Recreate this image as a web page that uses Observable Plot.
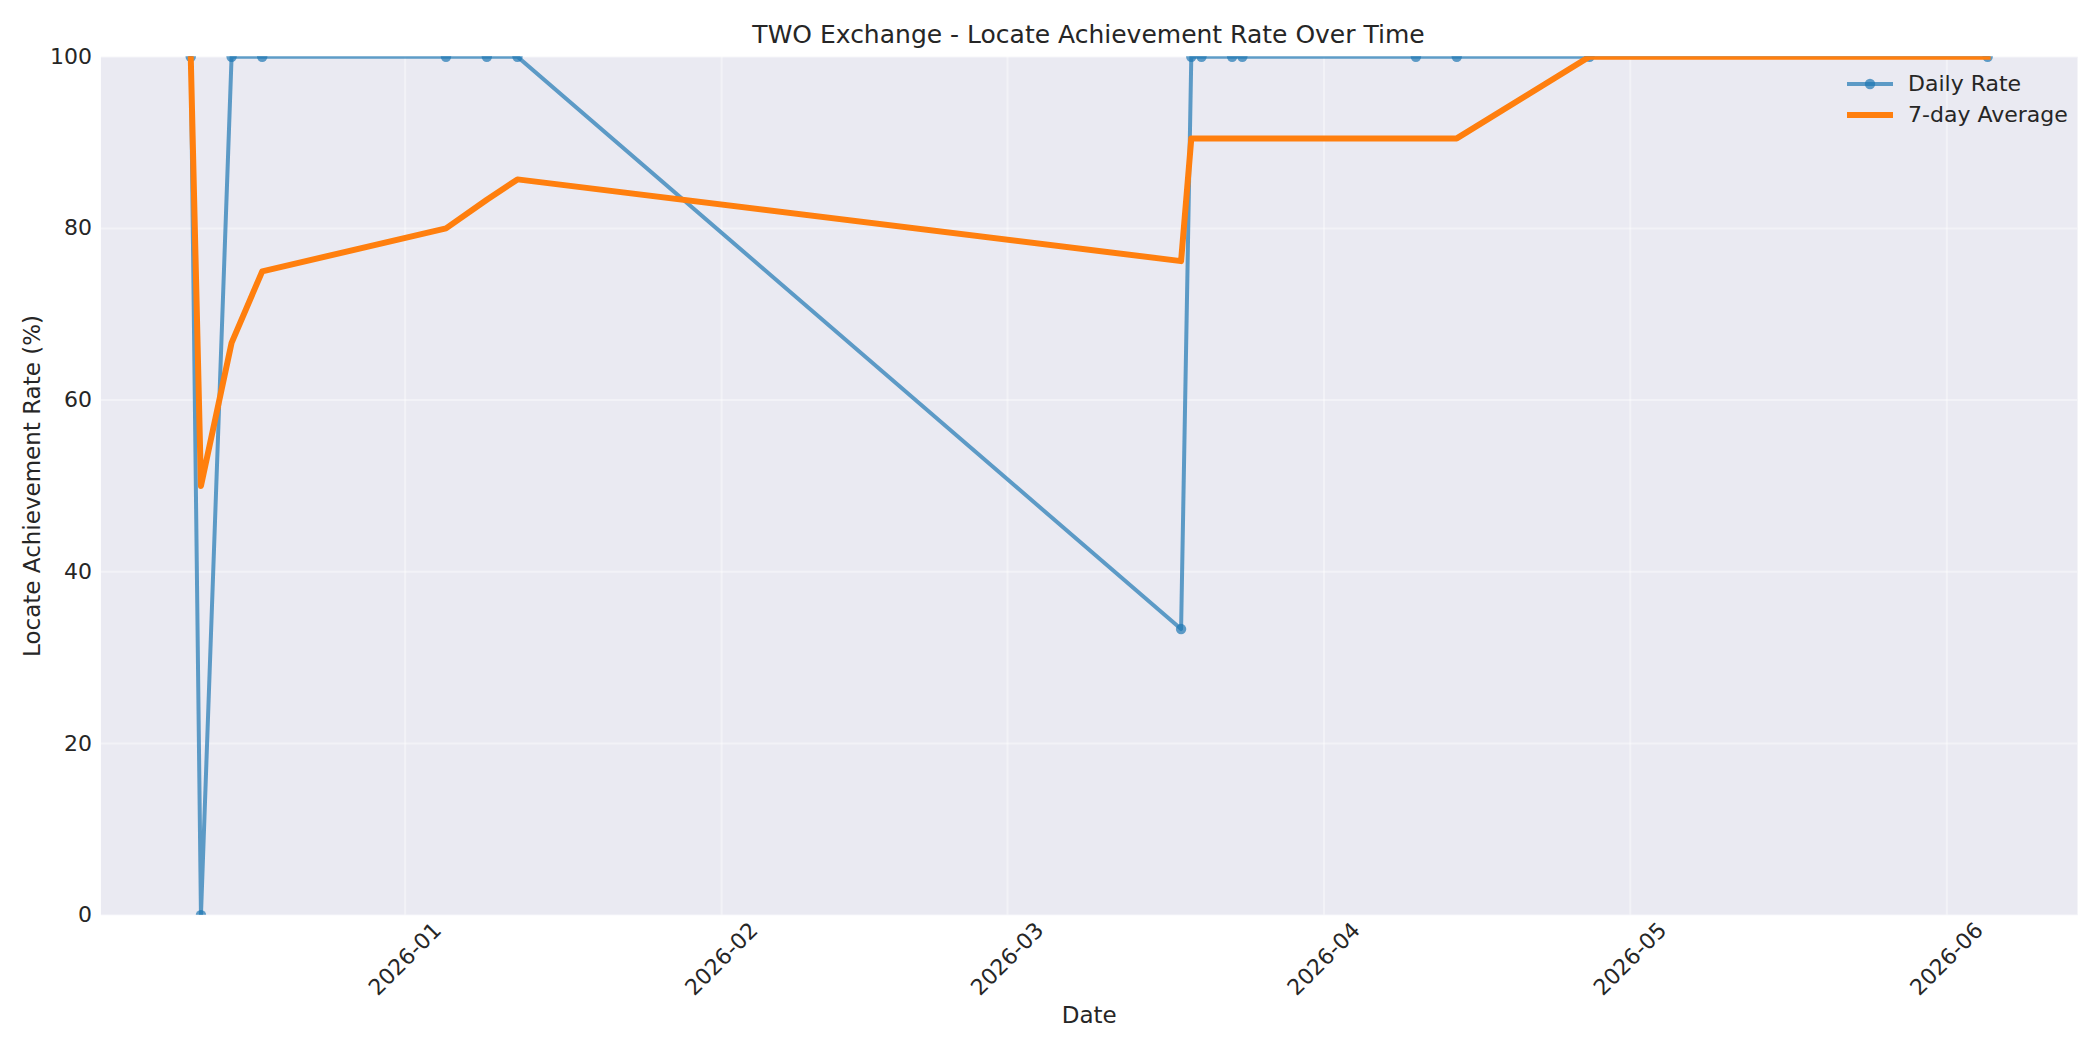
<!DOCTYPE html>
<html>
<head>
<meta charset="utf-8">
<script src="https://cdn.jsdelivr.net/npm/d3@7"></script>
<script src="https://cdn.jsdelivr.net/npm/@observablehq/plot@0.6"></script>
<style>
  html, body { margin: 0; padding: 0; background: #ffffff; }
  body { width: 2100px; height: 1050px; overflow: hidden; font-family: "DejaVu Sans", sans-serif; color: #262626; position: relative; }
  #title { position: relative; height: 48px; width: 2100px; }
  #title span { position: absolute; left: 100px; width: 1977px; top: 20px; line-height: 30px; text-align: center; font-size: 25px; color: #262626; }
  #legend { position: absolute; left: 1840px; top: 69px; font-size: 22px; color: #262626; }
  #legend .row { position: absolute; left: 0; height: 30px; width: 240px; }
  #legend svg { position: absolute; left: 0; top: 0; }
  #legend .lab { position: absolute; left: 68px; top: 0; line-height: 30px; white-space: nowrap; }
</style>
</head>
<body>
<div id="title"><span>TWO Exchange - Locate Achievement Rate Over Time</span></div>
<div id="chart"></div>
<div id="legend"></div>
<script>
// ---- data ----
const dates = ["2025-12-11","2025-12-12","2025-12-15","2025-12-18","2026-01-05","2026-01-09","2026-01-12",
               "2026-03-18","2026-03-19","2026-03-20","2026-03-23","2026-03-24","2026-04-10","2026-04-14",
               "2026-04-27","2026-06-05"];
const dailyRate = [100, 0, 100, 100, 100, 100, 100, 33.33, 100, 100, 100, 100, 100, 100, 100, 100];
const sevenDayAvg = [100, 50, 66.67, 75, 80, 83.33, 85.71, 76.19, 90.48, 90.48, 90.48, 90.48, 90.48, 90.48, 100, 100];
const xTickDates = ["2026-01-01","2026-02-01","2026-03-01","2026-04-01","2026-05-01","2026-06-01"];
const xTickLabels = ["2026-01","2026-02","2026-03","2026-04","2026-05","2026-06"];
const yTicks = [0, 20, 40, 60, 80, 100];
const seriesNames = ["Daily Rate", "7-day Average"];
const seriesColors = ["#1f77b4", "#ff7f0e"];

// ---- build table ----
const rows = dates.map((d, i) => ({date: new Date(d), daily: dailyRate[i], avg: sevenDayAvg[i]}));
const tickDates = xTickDates.map(d => new Date(d));
const tickLabelOf = new Map(tickDates.map((d, i) => [+d, xTickLabels[i]]));

// matplotlib-like 5% x margins
const t0 = d3.min(rows, r => +r.date), t1 = d3.max(rows, r => +r.date);
const pad = (t1 - t0) * 0.05;
const xDomain = [new Date(t0 - pad), new Date(t1 + pad)];

const W = 2100, H = 1002;
const mL = 100.4, mR = 23, mT = 8.2, mB = 135.3;

const chart = Plot.plot({
  width: W,
  height: H,
  marginLeft: mL,
  marginRight: mR,
  marginTop: mT,
  marginBottom: mB,
  style: {fontFamily: "DejaVu Sans, sans-serif", color: "#262626", background: "white", overflow: "visible"},
  x: {type: "utc", domain: xDomain},
  y: {domain: [0, 100]},
  marks: [
    Plot.frame({fill: "#EAEAF2", stroke: null}),
    Plot.gridX(tickDates, {stroke: "white", strokeOpacity: 0.4, strokeWidth: 2}),
    Plot.gridY(yTicks, {stroke: "white", strokeOpacity: 0.4, strokeWidth: 2}),
    Plot.axisY(yTicks, {tickSize: 0, tickPadding: 9, fontSize: 22, label: null, fill: "#262626"}),
    Plot.axisX(tickDates, {
      tickSize: 0, tickPadding: 44, tickRotate: -45, textAnchor: "middle", lineAnchor: "middle",
      fontSize: 22, label: null, fill: "#262626",
      tickFormat: d => tickLabelOf.get(+d)
    }),
    Plot.text(["Date"], {frameAnchor: "bottom", dy: 100, lineAnchor: "middle", fontSize: 23, fill: "#262626"}),
    Plot.text(["Locate Achievement Rate (%)"], {frameAnchor: "left", dx: -68, rotate: -90, lineAnchor: "middle", textAnchor: "middle", fontSize: 23, fill: "#262626"}),
    Plot.line(rows, {x: "date", y: "daily", stroke: seriesColors[0], strokeOpacity: 0.7, strokeWidth: 4, strokeLinejoin: "round", clip: true}),
    Plot.dot(rows, {x: "date", y: "daily", r: 5.2, fill: seriesColors[0], fillOpacity: 0.7, stroke: null, clip: true}),
    Plot.line(rows, {x: "date", y: "avg", stroke: seriesColors[1], strokeWidth: 6, strokeLinejoin: "round", strokeLinecap: "square", clip: true})
  ]
});
document.getElementById("chart").appendChild(chart);

// ---- legend ----
const legend = document.getElementById("legend");
seriesNames.forEach((name, i) => {
  const row = document.createElement("div");
  row.className = "row";
  row.style.top = (i * 31) + "px";
  const sw = i === 0
    ? `<svg width="60" height="30"><line x1="7" x2="53" y1="15" y2="15" stroke="${seriesColors[0]}" stroke-opacity="0.7" stroke-width="4"/><circle cx="30" cy="15" r="5.2" fill="${seriesColors[0]}" fill-opacity="0.7"/></svg>`
    : `<svg width="60" height="30"><line x1="10" x2="50" y1="15" y2="15" stroke="${seriesColors[1]}" stroke-width="6" stroke-linecap="square"/></svg>`;
  row.innerHTML = sw + `<span class="lab">${name}</span>`;
  legend.appendChild(row);
});
</script>
</body>
</html>
